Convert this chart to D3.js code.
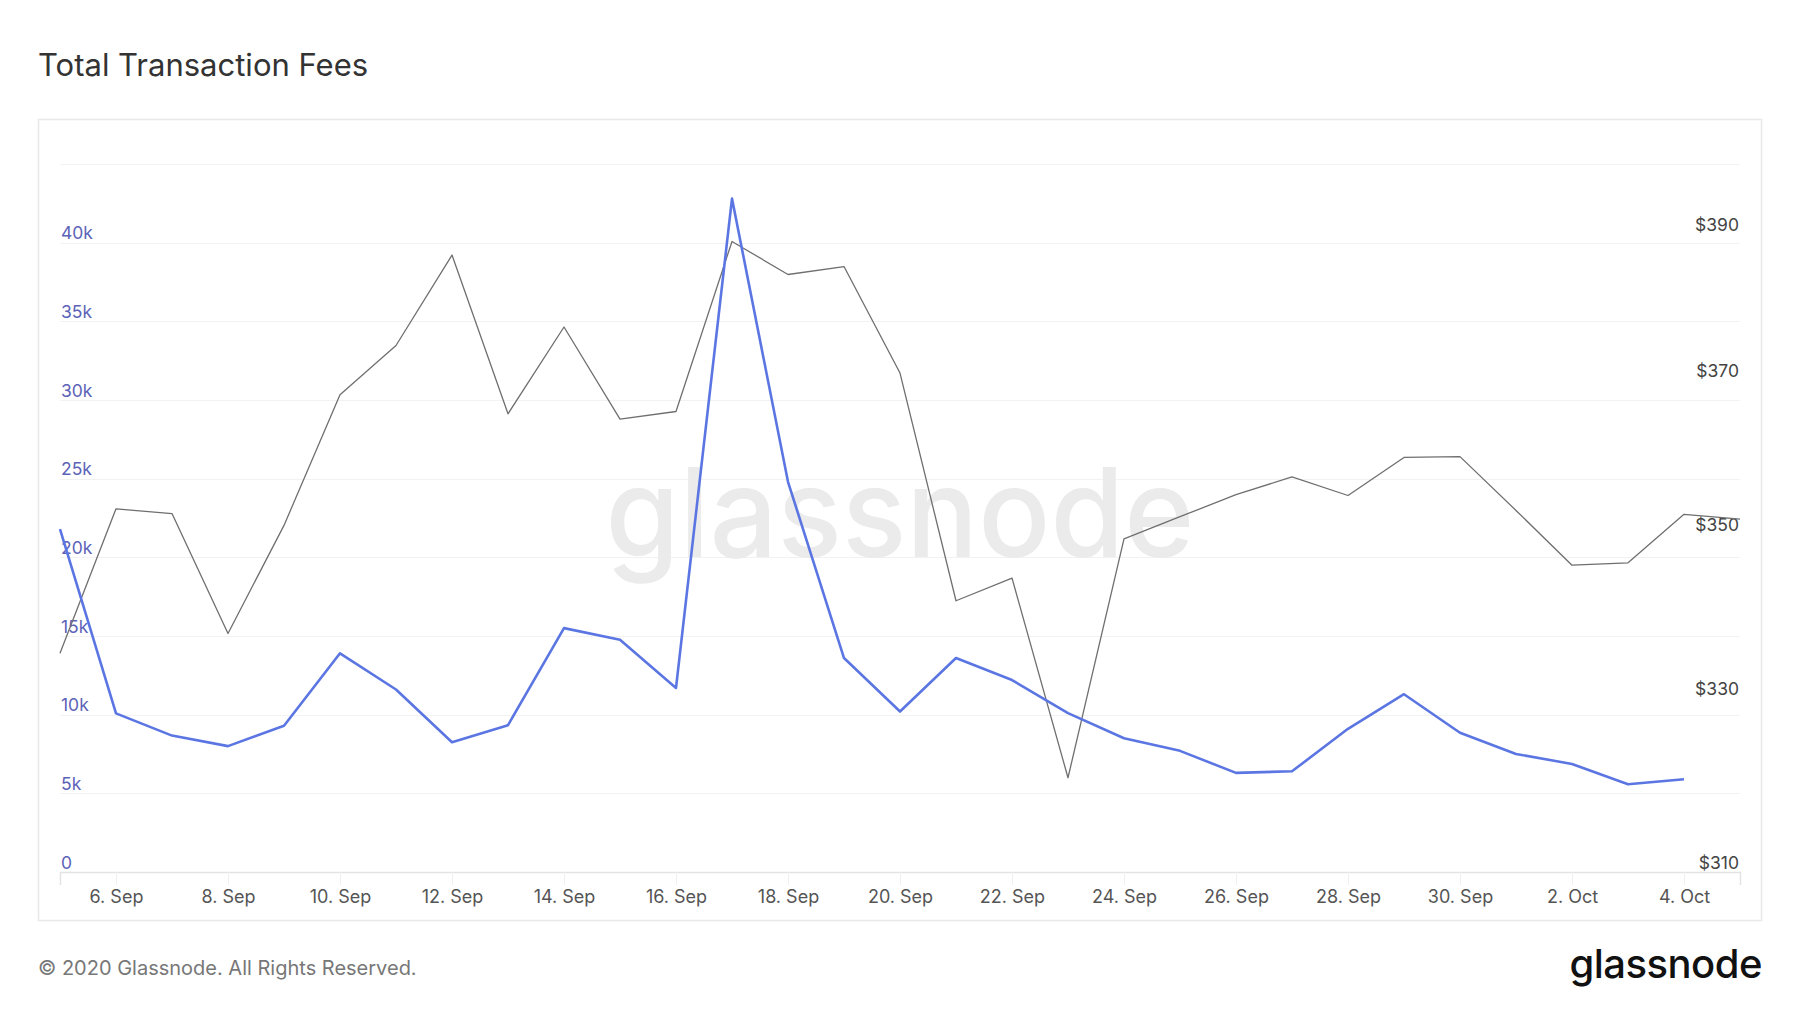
<!DOCTYPE html>
<html>
<head>
<meta charset="utf-8">
<script src="https://cdn.jsdelivr.net/npm/d3@7"></script>
<style>
  html, body { margin: 0; padding: 0; background: #ffffff; }
  svg { display: block; font-family: Inter, "Noto Sans", sans-serif; }
</style>
</head>
<body>
<svg id="chart" width="1800" height="1013"></svg>
<script>
// ---- data ----
const startDate = "2020-09-05";
const feeValues = [21800, 10080, 8670, 8000, 9300, 13900, 11600, 8250, 9330, 15500,
                   14760, 11700, 42800, 24800, 13600, 10200, 13600, 12200, 10100, 8500,
                   7700, 6300, 6400, 9100, 11300, 8850, 7500, 6870, 5580, 5900];
const priceValues = [335.4, 353.3, 352.7, 337.8, 351.2, 368.1, 374.7, 387.1, 365.6, 377.2,
                     364.9, 365.9, 389.0, 384.4, 385.5, 371.0, 341.8, 344.6, 320.7, 349.5,
                     352.3, 355.1, 357.4, 355.0, 359.9, 360.0, 353.1, 346.2, 346.5, 352.6,
                     352.0];
const leftTicks = [0, 5000, 10000, 15000, 20000, 25000, 30000, 35000, 40000];
const gridTicks = [0, 5000, 10000, 15000, 20000, 25000, 30000, 35000, 40000, 45000];
const rightTicks = [310, 330, 350, 370, 390];
const titleText = "Total Transaction Fees";
const footerText = "© 2020 Glassnode. All Rights Reserved.";
const brandText = "glassnode";

// ---- build ----
const day = 86400000;
const t0 = new Date(startDate + "T00:00:00Z");
const feeData = feeValues.map((v, i) => ({ date: new Date(t0.getTime() + i * day), v }));
const priceData = priceValues.map((v, i) => ({ date: new Date(t0.getTime() + i * day), v }));
const xTicks = d3.range(1, 31, 2).map(i => new Date(t0.getTime() + i * day));

const svg = d3.select("#chart");

const x = d3.scaleUtc()
  .domain([t0, new Date(t0.getTime() + 30 * day)])
  .range([60, 1740]);
const yL = d3.scaleLinear().domain([0, 45000]).range([872, 164]);
const yR = d3.scaleLog().domain([310, 400]).range([872, 164]);

// title
svg.append("text")
  .attr("x", 38).attr("y", 76)
  .attr("font-size", 31).attr("font-weight", 400)
  .attr("fill", "#333")
  .text(titleText);

// frame
svg.append("rect")
  .attr("x", 38.5).attr("y", 119.5).attr("width", 1723).attr("height", 801)
  .attr("fill", "none").attr("stroke", "#e8e8e8").attr("stroke-width", 1.5);

// grid
svg.append("g").selectAll("line").data(gridTicks.slice(1)).join("line")
  .attr("x1", 60).attr("x2", 1740)
  .attr("y1", d => Math.round(yL(d)) + 0.5).attr("y2", d => Math.round(yL(d)) + 0.5)
  .attr("stroke", "#f2f2f2").attr("stroke-width", 1);

// watermark
svg.append("text")
  .attr("x", 900).attr("y", 557)
  .attr("text-anchor", "middle")
  .attr("font-size", 124).attr("font-weight", 500)
  .attr("fill", "#ebebeb")
  .attr("textLength", 589).attr("lengthAdjust", "spacingAndGlyphs")
  .text(brandText);

// x axis
const xAxis = svg.append("g").attr("transform", "translate(0,872)")
  .call(d3.axisBottom(x).tickValues(xTicks).tickFormat(d3.utcFormat("%-d. %b")).tickSize(13).tickPadding(5));
xAxis.select(".domain").attr("stroke", "#e3e3e3").attr("stroke-width", 1.5);
xAxis.selectAll(".tick line").attr("stroke", "#f0f0f0");
xAxis.selectAll(".tick text")
  .attr("font-size", 18).attr("fill", "#555").attr("font-family", "Inter, sans-serif");

// left axis labels
const lAxis = svg.append("g").attr("transform", "translate(60,0)")
  .call(d3.axisRight(yL).tickValues(leftTicks).tickSize(0).tickPadding(1)
    .tickFormat(d => d === 0 ? "0" : (d / 1000) + "k"));
lAxis.select(".domain").remove();
lAxis.selectAll(".tick text")
  .attr("dy", null).attr("y", -4)
  .attr("font-size", 17.5).attr("fill", "#5c63b8").attr("font-family", "Inter, sans-serif");

// right axis labels
const rAxis = svg.append("g").attr("transform", "translate(1740,0)")
  .call(d3.axisLeft(yR).tickValues(rightTicks).tickSize(0).tickPadding(1)
    .tickFormat(d => "$" + d));
rAxis.select(".domain").remove();
rAxis.selectAll(".tick text")
  .attr("dy", null).attr("y", -4)
  .attr("font-size", 17.5).attr("fill", "#444").attr("font-family", "Inter, sans-serif");

// price line
svg.append("path").datum(priceData)
  .attr("fill", "none").attr("stroke", "#6f6f6f").attr("stroke-width", 1.3)
  .attr("stroke-linejoin", "round")
  .attr("d", d3.line().x(d => x(d.date)).y(d => yR(d.v)));

// fee line
svg.append("path").datum(feeData)
  .attr("fill", "none").attr("stroke", "#5b76e2").attr("stroke-width", 2.6)
  .attr("stroke-linejoin", "round")
  .attr("d", d3.line().x(d => x(d.date)).y(d => yL(d.v)));

// footer
svg.append("text")
  .attr("x", 38).attr("y", 975)
  .attr("font-size", 20).attr("fill", "#777")
  .text(footerText);

svg.append("text")
  .attr("x", 1762).attr("y", 978)
  .attr("text-anchor", "end")
  .attr("font-size", 40).attr("font-weight", 500)
  .attr("fill", "#111").attr("letter-spacing", -0.5)
  .text(brandText);
</script>
</body>
</html>
